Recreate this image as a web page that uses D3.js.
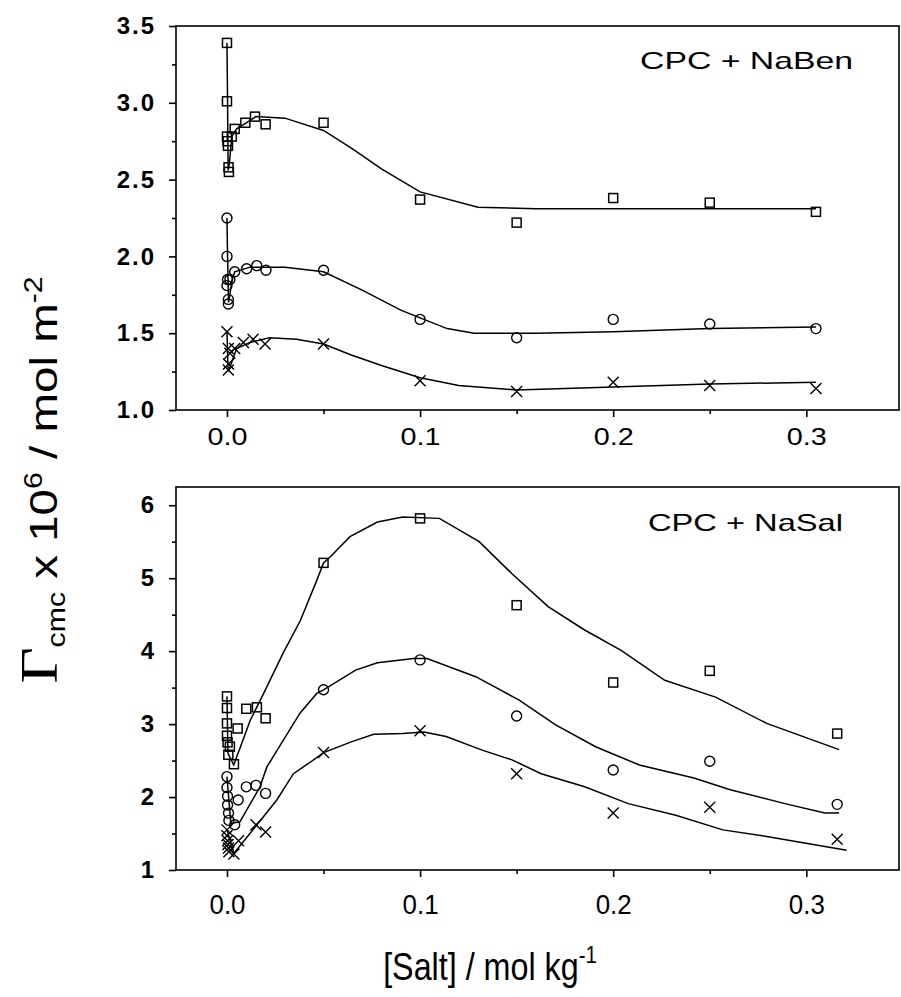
<!DOCTYPE html>
<html><head><meta charset="utf-8">
<script src="https://cdn.jsdelivr.net/npm/d3@7"></script>
<style>body{margin:0;background:#fff}svg{display:block}</style>
</head><body>
<svg id="chart" width="901" height="997"></svg>
<script>
// ---------- data ----------
const xTickValues = [0.0, 0.1, 0.2, 0.3];
const yTicksTop = [1.0, 1.5, 2.0, 2.5, 3.0, 3.5];
const yTicksBottom = [1, 2, 3, 4, 5, 6];
const panelLabels = ["CPC + NaBen", "CPC + NaSal"];

// Top panel: CPC + NaBen  (markers)
const benSqX = [0, 0, 0, 0.0003, 0.0005, 0.0008, 0.001, 0.0025, 0.004, 0.0095, 0.0145, 0.02, 0.05, 0.1, 0.15, 0.2, 0.25, 0.305];
const benSqY = [3.39, 3.01, 2.78, 2.75, 2.72, 2.58, 2.55, 2.78, 2.83, 2.87, 2.91, 2.86, 2.87, 2.37, 2.22, 2.38, 2.35, 2.29];
const benCiX = [0, 0, 0.0003, 0, 0.0015, 0.0007, 0.0007, 0.004, 0.0102, 0.0154, 0.0202, 0.05, 0.1, 0.15, 0.2, 0.25, 0.305];
const benCiY = [2.25, 2.0, 1.85, 1.81, 1.85, 1.72, 1.69, 1.90, 1.92, 1.94, 1.91, 1.91, 1.59, 1.47, 1.59, 1.56, 1.53];
const benCrX = [0, 0.0007, 0.0015, 0.0008, 0.0007, 0.004, 0.0085, 0.0135, 0.0197, 0.05, 0.1, 0.15, 0.2, 0.25, 0.305];
const benCrY = [1.51, 1.40, 1.37, 1.30, 1.26, 1.40, 1.44, 1.46, 1.43, 1.43, 1.19, 1.12, 1.18, 1.16, 1.14];
// Top panel fitted curves
const benSqFitX = [0, 0.0003, 0.0006, 0.0012, 0.0025, 0.005, 0.01, 0.015, 0.03, 0.05, 0.065, 0.08, 0.1, 0.13, 0.16, 0.2, 0.25, 0.305];
const benSqFitY = [3.39, 3.0, 2.56, 2.6, 2.78, 2.83, 2.87, 2.91, 2.90, 2.82, 2.70, 2.57, 2.42, 2.32, 2.31, 2.31, 2.31, 2.31];
const benCiFitX = [0, 0.0003, 0.0008, 0.0015, 0.0025, 0.004, 0.012, 0.03, 0.05, 0.07, 0.09, 0.1, 0.114, 0.128, 0.16, 0.2, 0.25, 0.305];
const benCiFitY = [2.25, 2.0, 1.70, 1.75, 1.84, 1.90, 1.93, 1.93, 1.90, 1.78, 1.65, 1.60, 1.53, 1.50, 1.50, 1.51, 1.53, 1.54];
const benCrFitX = [0, 0.0005, 0.001, 0.005, 0.012, 0.022, 0.036, 0.05, 0.064, 0.08, 0.1, 0.12, 0.15, 0.2, 0.25, 0.305];
const benCrFitY = [1.51, 1.28, 1.26, 1.40, 1.44, 1.47, 1.46, 1.43, 1.36, 1.29, 1.21, 1.16, 1.13, 1.15, 1.17, 1.18];

// Bottom panel: CPC + NaSal (markers)
const salSqX = [0, 0, 0, 0, 0.0003, 0.0015, 0.0007, 0.0036, 0.0055, 0.01, 0.0155, 0.02, 0.05, 0.1, 0.15, 0.2, 0.25, 0.316];
const salSqY = [3.38, 3.22, 3.01, 2.84, 2.75, 2.69, 2.58, 2.45, 2.94, 3.21, 3.23, 3.08, 5.21, 5.82, 4.63, 3.57, 3.73, 2.87];
const salCiX = [0, 0, 0.0003, 0.0003, 0.0008, 0.001, 0.004, 0.0058, 0.01, 0.015, 0.02, 0.05, 0.1, 0.15, 0.2, 0.25, 0.316];
const salCiY = [2.28, 2.13, 2.01, 1.89, 1.78, 1.68, 1.62, 1.96, 2.14, 2.16, 2.05, 3.47, 3.88, 3.11, 2.37, 2.49, 1.90];
const salCrX = [0, 0, 0.0003, 0.0005, 0.0008, 0.001, 0.0036, 0.006, 0.015, 0.02, 0.05, 0.1, 0.15, 0.2, 0.25, 0.316];
const salCrY = [1.55, 1.47, 1.40, 1.35, 1.30, 1.25, 1.22, 1.40, 1.62, 1.52, 2.61, 2.91, 2.32, 1.78, 1.86, 1.42];
// Bottom panel fitted curves
const salSqFitX = [0, 0.0005, 0.0035, 0.007, 0.012, 0.019, 0.029, 0.038, 0.0465, 0.05, 0.0534, 0.0637, 0.0779, 0.091, 0.11, 0.1306, 0.1476, 0.1663, 0.1852, 0.2041, 0.2267, 0.253, 0.2795, 0.317];
const salSqFitY = [3.38, 2.60, 2.44, 2.69, 3.05, 3.42, 3.97, 4.42, 4.97, 5.21, 5.29, 5.57, 5.77, 5.84, 5.82, 5.50, 5.06, 4.61, 4.29, 4.01, 3.60, 3.37, 3.01, 2.65];
const salCiFitX = [0, 0.002, 0.0067, 0.0171, 0.0206, 0.0292, 0.0378, 0.0465, 0.05, 0.0666, 0.0779, 0.0967, 0.1036, 0.1288, 0.1513, 0.1702, 0.1909, 0.2135, 0.2418, 0.2606, 0.2889, 0.3096, 0.317];
const salCiFitY = [2.28, 1.64, 1.66, 2.14, 2.41, 2.78, 3.15, 3.42, 3.47, 3.74, 3.84, 3.90, 3.90, 3.65, 3.33, 2.99, 2.69, 2.44, 2.26, 2.10, 1.91, 1.78, 1.78];
const salCrFitX = [0, 0.0036, 0.0119, 0.0258, 0.0344, 0.0422, 0.05, 0.0647, 0.076, 0.091, 0.102, 0.1135, 0.1325, 0.1476, 0.1627, 0.1852, 0.2078, 0.2324, 0.2568, 0.2795, 0.3209];
const salCrFitY = [1.55, 1.23, 1.50, 1.96, 2.32, 2.46, 2.61, 2.76, 2.86, 2.87, 2.89, 2.83, 2.64, 2.51, 2.32, 2.14, 1.91, 1.75, 1.55, 1.46, 1.27];

// ---------- drawing ----------
const svg = d3.select("#chart");
const SANS = "'Liberation Sans', Arial, sans-serif";
const L = 176, R = 899;
const x = d3.scaleLinear().domain([-0.0264, 0.348]).range([L, R]);
const panels = [
  {top: 26, bottom: 410, y: d3.scaleLinear().domain([1, 3.5]).range([410, 26]),
   ticks: yTicksTop, minor: d3.range(1.25, 3.5, 0.5), fmt: d3.format(".1f"), label: panelLabels[0], lx: 640, ly: 69, lw: 213,
   xsize: 24, xlen: 40, xpad: 11,
   series: [[benSqX, benSqY, benSqFitX, benSqFitY, "sq"], [benCiX, benCiY, benCiFitX, benCiFitY, "ci"], [benCrX, benCrY, benCrFitX, benCrFitY, "cr"]]},
  {top: 487, bottom: 870, y: d3.scaleLinear().domain([1, 6.25]).range([870, 487]),
   ticks: yTicksBottom, minor: d3.range(1.5, 6, 1), fmt: d3.format("d"), label: panelLabels[1], lx: 648, ly: 531, lw: 195,
   xsize: 27, xlen: 36, xpad: 18,
   series: [[salSqX, salSqY, salSqFitX, salSqFitY, "sq"], [salCiX, salCiY, salCiFitX, salCiFitY, "ci"], [salCrX, salCrY, salCrFitX, salCrFitY, "cr"]]}
];
const xMinor = [0.05, 0.15, 0.25];

panels.forEach((p, i) => {
  const g = svg.append("g");
  g.append("rect").attr("x", L).attr("y", p.top).attr("width", R - L).attr("height", p.bottom - p.top)
    .attr("fill", "none").attr("stroke", "#000").attr("stroke-width", 1.6);
  const ya = g.append("g").attr("transform", `translate(${L},0)`)
    .call(d3.axisLeft(p.y).tickValues(p.ticks).tickFormat(p.fmt).tickSize(7).tickPadding(13));
  g.append("g").attr("transform", `translate(${L},0)`)
    .call(d3.axisLeft(p.y).tickValues(p.minor).tickFormat("").tickSize(4));
  const xa = g.append("g").attr("transform", `translate(0,${p.bottom})`)
    .call(d3.axisBottom(x).tickValues(xTickValues).tickFormat(d3.format(".1f")).tickSize(7).tickPadding(p.xpad));
  g.append("g").attr("transform", `translate(0,${p.bottom})`)
    .call(d3.axisBottom(x).tickValues(xMinor).tickFormat("").tickSize(4));
  g.selectAll(".domain").remove();
  g.selectAll(".tick line").attr("stroke", "#000").attr("stroke-width", 1.6);
  ya.selectAll("text").attr("font-family", SANS).attr("font-size", 24)
    .attr("font-weight", "bold").attr("fill", "#000").attr("letter-spacing", 2);
  xa.selectAll("text").attr("font-family", SANS).attr("font-size", p.xsize).attr("fill", "#000")
    .attr("textLength", p.xlen).attr("lengthAdjust", "spacingAndGlyphs");
  g.append("text").attr("x", p.lx).attr("y", p.ly).text(p.label)
    .attr("textLength", p.lw).attr("lengthAdjust", "spacingAndGlyphs")
    .attr("font-family", SANS).attr("font-size", 24).attr("fill", "#000");

  const clip = "clip" + i;
  svg.append("clipPath").attr("id", clip).append("rect").attr("x", L).attr("y", p.top).attr("width", R - L).attr("height", p.bottom - p.top);
  const plot = g.append("g").attr("clip-path", `url(#${clip})`);
  const line = d3.line().x(d => x(d[0])).y(d => p.y(d[1]));
  p.series.forEach(([xs, ys, fx, fy, kind]) => {
    const fit = fx.map((v, k) => [v, fy[k]]);
    plot.append("path").datum(fit).attr("d", line).attr("fill", "none").attr("stroke", "#000").attr("stroke-width", 1.5);
    const pts = xs.map((v, k) => [v, ys[k]]);
    const m = plot.append("g").selectAll("g").data(pts).join("g")
      .attr("transform", d => `translate(${x(d[0])},${p.y(d[1])})`);
    if (kind === "sq") {
      m.append("rect").attr("x", -4.5).attr("y", -4.5).attr("width", 9).attr("height", 9)
        .attr("fill", "none").attr("stroke", "#000").attr("stroke-width", 1.5);
    } else if (kind === "ci") {
      m.append("circle").attr("r", 5).attr("fill", "none").attr("stroke", "#000").attr("stroke-width", 1.4);
    } else {
      m.append("path").attr("d", "M-5.5,-5.5L5.5,5.5M-5.5,5.5L5.5,-5.5").attr("stroke", "#000").attr("stroke-width", 1.4);
    }
  });
});

// y axis title
const yt = svg.append("g").attr("transform", "translate(57,480) rotate(-90) scale(1.08,0.9)")
  .append("text").attr("text-anchor", "middle").attr("font-family", SANS)
  .attr("font-size", 44).attr("fill", "#000");
yt.append("tspan").attr("font-family", "'Liberation Serif', 'Times New Roman', serif").attr("font-size", 58).text("Γ");
yt.append("tspan").attr("font-size", 28).attr("dy", 9).text("cmc");
yt.append("tspan").attr("dy", -9).text(" x 10");
yt.append("tspan").attr("font-size", 28).attr("dy", -17).text("6");
yt.append("tspan").attr("dy", 17).text(" / mol m");
yt.append("tspan").attr("font-size", 28).attr("dy", -17).text("-2");

// x axis title
const xt = svg.append("g").attr("transform", "translate(490,980) scale(0.85,1)")
  .append("text").attr("text-anchor", "middle")
  .attr("font-family", SANS).attr("font-size", 38).attr("fill", "#000");
xt.append("tspan").text("[Salt] / mol kg");
xt.append("tspan").attr("font-size", 24).attr("dy", -17).text("-1");
</script>
</body></html>
